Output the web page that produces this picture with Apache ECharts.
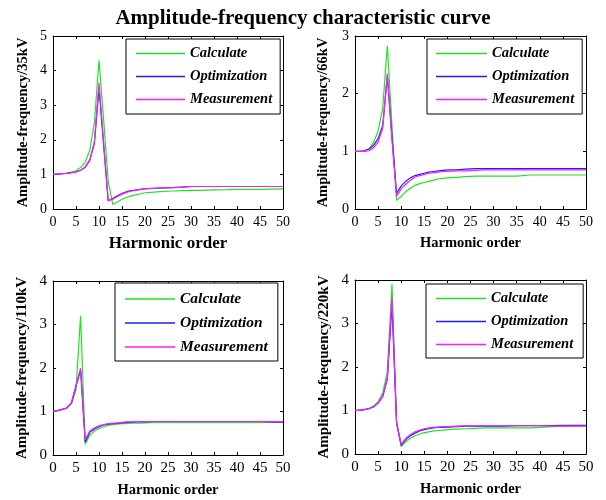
<!DOCTYPE html>
<html>
<head>
<meta charset="utf-8">
<script src="https://cdn.jsdelivr.net/npm/echarts@6/dist/echarts.min.js"></script>
<style>html,body{margin:0;padding:0;background:#fff}#c{width:606px;height:500px}</style>
</head>
<body>
<div id="c"></div>
<script>
const harmonic = [0,1,2,3,4,5,6,7,8,9,10,11,12,13,14,15,16,17,18,19,20,22,24,26,28,30,32,35,38,40,45,50];
const seriesNames = ['Calculate','Optimization','Measurement'];

const calc35 = [1.00,1.01,1.02,1.04,1.07,1.10,1.20,1.35,1.70,2.50,4.30,2.60,0.80,0.13,0.20,0.28,0.34,0.38,0.41,0.44,0.47,0.49,0.51,0.52,0.53,0.54,0.54,0.55,0.56,0.57,0.57,0.58];
const opt35  = [1.00,1.01,1.02,1.03,1.05,1.07,1.12,1.21,1.42,1.90,3.50,1.85,0.24,0.30,0.38,0.45,0.50,0.53,0.55,0.57,0.59,0.60,0.61,0.62,0.63,0.65,0.65,0.65,0.65,0.65,0.65,0.65];
const meas35 = [1.00,1.01,1.02,1.03,1.05,1.07,1.12,1.20,1.40,1.95,3.65,1.95,0.25,0.28,0.36,0.43,0.48,0.52,0.54,0.56,0.58,0.60,0.61,0.62,0.63,0.65,0.65,0.65,0.65,0.65,0.65,0.65];

const calc66 = [1.00,1.00,1.00,1.04,1.15,1.35,1.75,2.83,1.45,0.15,0.22,0.30,0.36,0.41,0.44,0.46,0.48,0.50,0.52,0.53,0.54,0.55,0.56,0.57,0.57,0.57,0.57,0.57,0.59,0.59,0.59,0.59];
const opt66  = [1.00,1.00,1.01,1.04,1.10,1.22,1.45,2.30,1.25,0.27,0.40,0.48,0.54,0.58,0.60,0.62,0.64,0.65,0.66,0.67,0.68,0.68,0.69,0.70,0.70,0.70,0.70,0.70,0.70,0.70,0.70,0.70];
const meas66 = [1.00,1.00,1.00,1.01,1.06,1.16,1.40,2.35,1.20,0.22,0.35,0.43,0.50,0.55,0.58,0.60,0.62,0.63,0.64,0.65,0.65,0.66,0.66,0.67,0.68,0.68,0.68,0.68,0.68,0.68,0.68,0.68];

const calc110 = [1.00,1.02,1.05,1.08,1.18,1.50,3.20,0.25,0.45,0.55,0.61,0.65,0.68,0.70,0.71,0.72,0.72,0.73,0.73,0.73,0.74,0.75,0.75,0.75,0.75,0.75,0.75,0.75,0.75,0.75,0.75,0.75];
const opt110  = [1.00,1.02,1.05,1.08,1.19,1.58,1.95,0.30,0.52,0.60,0.65,0.69,0.71,0.72,0.73,0.74,0.75,0.75,0.76,0.76,0.76,0.77,0.77,0.77,0.77,0.77,0.77,0.77,0.77,0.77,0.77,0.75];
const meas110 = [1.00,1.02,1.05,1.08,1.20,1.60,2.00,0.35,0.55,0.62,0.67,0.70,0.72,0.73,0.74,0.75,0.76,0.76,0.77,0.77,0.77,0.77,0.77,0.77,0.77,0.77,0.77,0.77,0.77,0.77,0.77,0.76];

const calc220 = [1.00,1.00,1.02,1.05,1.10,1.20,1.40,1.90,3.90,0.75,0.17,0.28,0.36,0.42,0.46,0.49,0.51,0.53,0.54,0.55,0.56,0.57,0.58,0.59,0.60,0.60,0.60,0.60,0.60,0.61,0.64,0.65];
const opt220  = [1.00,1.01,1.02,1.04,1.08,1.17,1.32,1.72,3.45,0.72,0.20,0.33,0.42,0.48,0.53,0.56,0.58,0.60,0.61,0.61,0.62,0.63,0.64,0.64,0.64,0.64,0.64,0.65,0.65,0.65,0.66,0.66];
const meas220 = [1.00,1.01,1.02,1.04,1.08,1.17,1.33,1.75,3.60,0.70,0.22,0.36,0.45,0.51,0.55,0.58,0.60,0.61,0.62,0.63,0.63,0.64,0.65,0.65,0.65,0.65,0.65,0.65,0.65,0.65,0.64,0.64];

const yNames = ['Amplitude-frequency/35kV','Amplitude-frequency/66kV','Amplitude-frequency/110kV','Amplitude-frequency/220kV'];
const yMax = [5,3,4,4];
const xName = 'Harmonic order';
const titleText = 'Amplitude-frequency characteristic curve';

const panels = [
  {data:[calc35,opt35,meas35]},
  {data:[calc66,opt66,meas66]},
  {data:[calc110,opt110,meas110]},
  {data:[calc220,opt220,meas220]}
];

const FONT = "'Liberation Serif','Times New Roman',serif";
const colors = ['#1ee61e','#1f1ff5','#ff1aff'];

const layout = [
  {grid:{left:53,top:36,width:230,height:173}, xNameSize:17, xNameGap:26, yNameSize:14.5, yNameGap:22, lab:14,
   legend:{left:126,top:39,padding:[7,8,7,10],fs:14.5,gap:8,iw:49}},
  {grid:{left:355,top:36,width:231,height:173}, xNameSize:14.5, xNameGap:27, yNameSize:14.5, yNameGap:24, lab:14,
   legend:{left:427,top:39,padding:[7,8,7,9],fs:14.5,gap:8,iw:51}},
  {grid:{left:53,top:281,width:230,height:174}, xNameSize:14.5, xNameGap:28, yNameSize:15, yNameGap:23, lab:15,
   legend:{left:115,top:283,padding:[8,10,6,10],fs:15.5,gap:8,iw:50}},
  {grid:{left:355,top:280,width:231,height:174}, xNameSize:14.5, xNameGap:28, yNameSize:15, yNameGap:23, lab:15,
   legend:{left:426,top:284,padding:[7,10,6,10],fs:14.5,gap:8,iw:50}}
];

const grid=[], xAxis=[], yAxis=[], series=[], legend=[];
layout.forEach((L,i)=>{
  grid.push(Object.assign({containLabel:false}, L.grid));
  const common = {min:0, axisLine:{show:true,onZero:false,lineStyle:{color:'#000',width:1}},
    axisTick:{show:true,inside:true,length:3,lineStyle:{color:'#000'}}, splitLine:{show:false}};
  xAxis.push(Object.assign({}, common, {type:'value', gridIndex:i, position:'bottom', max:50, interval:5,
    axisLabel:{color:'#000',fontFamily:FONT,fontSize:L.lab,margin:6},
    name:xName, nameLocation:'middle', nameGap:L.xNameGap,
    nameTextStyle:{color:'#000',fontFamily:FONT,fontWeight:'bold',fontSize:L.xNameSize}}));
  xAxis.push(Object.assign({}, common, {type:'value', gridIndex:i, position:'top', max:50, interval:5,
    axisLabel:{show:false}}));
  yAxis.push(Object.assign({}, common, {type:'value', gridIndex:i, position:'left', max:yMax[i], interval:1,
    axisLabel:{color:'#000',fontFamily:FONT,fontSize:L.lab,margin:6},
    name:yNames[i], nameLocation:'middle', nameGap:L.yNameGap,
    nameTextStyle:{color:'#000',fontFamily:FONT,fontWeight:'bold',fontSize:L.yNameSize}}));
  yAxis.push(Object.assign({}, common, {type:'value', gridIndex:i, position:'right', max:yMax[i], interval:1,
    axisLabel:{show:false}}));
  panels[i].data.forEach((arr,k)=>{
    series.push({type:'line', name:seriesNames[k], xAxisIndex:2*i, yAxisIndex:2*i,
      data: harmonic.map((h,j)=>[h,arr[j]]), symbol:'none', showSymbol:false,
      lineStyle:{color:colors[k],width:1.2}, itemStyle:{color:colors[k]}, z:2+k, silent:true});
  });
  const lg = L.legend;
  legend.push({orient:'vertical', left:lg.left, top:lg.top, padding:lg.padding, itemGap:lg.gap,
    itemWidth:lg.iw, itemHeight:1.3, icon:'rect', borderColor:'#000', borderWidth:1, backgroundColor:'#fff',
    data:seriesNames, selectedMode:false,
    textStyle:{color:'#000',fontFamily:FONT,fontStyle:'italic',fontWeight:'bold',fontSize:lg.fs,lineHeight:lg.fs}});
});

const chart = echarts.init(document.getElementById('c'), null, {renderer:'canvas'});
chart.setOption({
  animation:false,
  backgroundColor:'#fff',
  title:{text:titleText, left:'center', top:3, textStyle:{color:'#000',fontFamily:FONT,fontWeight:'bold',fontSize:21}},
  grid, xAxis, yAxis, series, legend
});
</script>
</body>
</html>
